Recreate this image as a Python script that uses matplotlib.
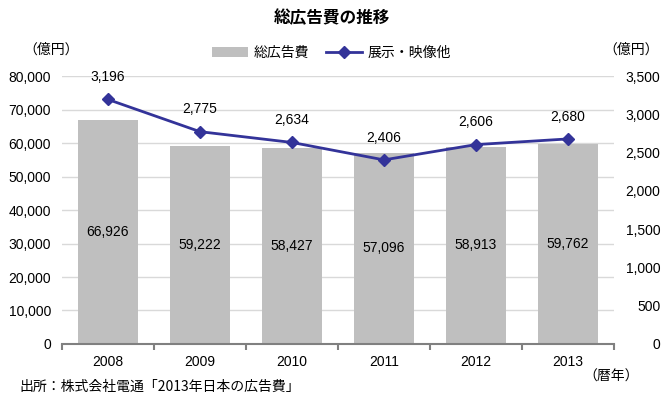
import matplotlib.pyplot as plt
import numpy as np

plt.rcParams['font.family'] = ['Liberation Sans', 'Noto Sans CJK JP', 'DejaVu Sans']

years = ['2008', '2009', '2010', '2011', '2012', '2013']
total_ad = [66926, 59222, 58427, 57096, 58913, 59762]
exhibit = [3196, 2775, 2634, 2406, 2606, 2680]
left_ticks = np.arange(0, 80001, 10000)
right_ticks = np.arange(0, 3501, 500)

bar_color = '#bfbfbf'
line_color = '#333399'
jp = ['Noto Sans CJK JP', 'DejaVu Sans']

fig = plt.figure(figsize=(6.63, 3.99), dpi=100)
ax = fig.add_axes([0.0935, 0.138, 0.8325, 0.671])
ax2 = ax.twinx()

x = np.arange(len(years))
bars = ax.bar(x, total_ad, width=0.66, color=bar_color, label='総広告費', zorder=2)
for xi, v in zip(x, total_ad):
    ax.text(xi, v / 2, f'{v:,}', ha='center', va='center', fontsize=10)

ax.set_xlim(-0.5, len(years) - 0.5)
ax.set_ylim(0, 80000)
ax.set_yticks(left_ticks)
ax.set_yticklabels([f'{t:,}' for t in left_ticks], fontsize=10)
ax.set_xticks(x)
ax.set_xticklabels(years, fontsize=10)
ax.yaxis.grid(True, color='#d9d9d9', linewidth=1, zorder=0)
ax.set_axisbelow(True)
for s in ['top', 'left', 'right']:
    ax.spines[s].set_visible(False)
ax.spines['bottom'].set_color('#808080')
ax.spines['bottom'].set_linewidth(1.5)
ax.tick_params(axis='y', length=0, pad=8)
ax.set_xticks(np.arange(-0.5, len(years)), minor=True)
ax.tick_params(axis='x', which='major', length=0, pad=8)
ax.tick_params(axis='x', which='minor', length=4, color='#808080', width=1.5)

line, = ax2.plot(x, exhibit, color=line_color, linewidth=2, marker='D',
                 markersize=6.5, label='展示・映像他', zorder=3)
for xi, v in zip(x, exhibit):
    ax2.text(xi, v + 290, f'{v:,}', ha='center', va='center', fontsize=10)
ax2.set_ylim(0, 3500)
ax2.set_yticks(right_ticks)
ax2.set_yticklabels([f'{t:,}' for t in right_ticks], fontsize=10)
ax2.tick_params(axis='y', length=0, pad=0)
for lbl in ax2.get_yticklabels():
    lbl.set_horizontalalignment('right')
    lbl.set_x(1.084)
for s in ['top', 'left', 'right', 'bottom']:
    ax2.spines[s].set_visible(False)

fig.text(0.5, 0.955, '総広告費の推移', ha='center', va='center', fontsize=12,
         fontweight='bold', family=jp)
fig.text(0.035, 0.875, '（億円）', ha='left', va='center', fontsize=10, family=jp)
fig.text(0.91, 0.875, '（億円）', ha='left', va='center', fontsize=10, family=jp)
fig.text(0.88, 0.055, '（暦年）', ha='left', va='center', fontsize=10, family=jp)
fig.text(0.03, 0.03, '出所：株式会社電通「2013年日本の広告費」', ha='left', va='center',
         fontsize=10, family=jp)

leg = fig.legend([bars, line], ['総広告費', '展示・映像他'], loc='center',
                 bbox_to_anchor=(0.5, 0.868), ncol=2, frameon=False,
                 prop={'family': jp, 'size': 10}, handlelength=2.6,
                 columnspacing=1.2, handletextpad=0.4)

fig.savefig('out.png', dpi=100)
